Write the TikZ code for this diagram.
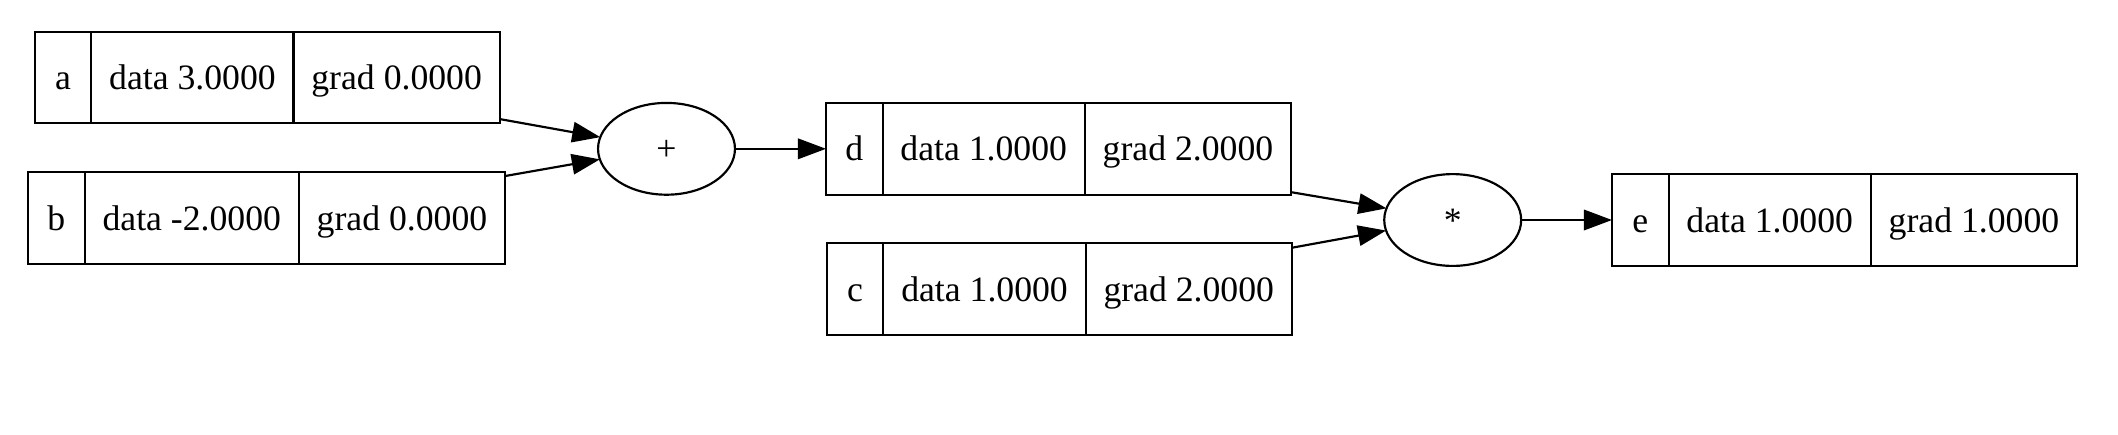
\documentclass[tikz,border=0pt]{standalone}
\usepackage{fontspec}
\setmainfont{Liberation Serif}
\usepackage{tikz}
\usetikzlibrary{positioning, shapes.geometric, arrows.meta}

\begin{document}
\begin{tikzpicture}[x=0.3922pt, y=-0.3922pt,
	field/.style = {draw, line width=0.85pt, outer sep=0pt, inner xsep=7pt, inner ysep=0pt, minimum height=36pt, text height=9.5pt, text depth=0pt, font=\fontsize{14pt}{17pt}\selectfont},
	namefield/.style = {field, minimum width=22.2pt},
	op/.style = {draw, ellipse, line width=0.85pt, outer sep=0pt, inner sep=0pt, minimum width=53.7pt, minimum height=36pt, text height=9.5pt, text depth=0pt, font=\fontsize{14pt}{17pt}\selectfont},
	link/.style = {-{Triangle[length=11pt, width=8pt]}, line width=0.85pt}]
			\path[fill=white] (0,0) rectangle (2118,434);
			
			\node[namefield, anchor=west] (a) at (34.7,77.5) {a};
			\node[field, right=0pt of a] (adata) {data 3.0000};
			\node[field, right=0pt of adata] (agrad) {grad 0.0000};
			
			\node[namefield, anchor=west] (b) at (28.1,218.1) {b};
			\node[field, right=0pt of b] (bdata) {data -2.0000};
			\node[field, right=0pt of bdata] (bgrad) {grad 0.0000};
			
			\node[op] (plus) at (666.5,148.8) {+};
			
			\node[namefield, anchor=west] (d) at (826,148.8) {d};
			\node[field, right=0pt of d] (ddata) {data 1.0000};
			\node[field, right=0pt of ddata] (dgrad) {grad 2.0000};
			
			\node[namefield, anchor=west] (c) at (826.8,289.3) {c};
			\node[field, right=0pt of c] (cdata) {data 1.0000};
			\node[field, right=0pt of cdata] (cgrad) {grad 2.0000};
			
			\node[op] (mul) at (1452.7,220) {*};
			
			\node[namefield, anchor=west] (e) at (1612,220) {e};
			\node[field, right=0pt of e] (edata) {data 1.0000};
			\node[field, right=0pt of edata] (egrad) {grad 1.0000};
			
			\draw[link] ([yshift=1.7pt]agrad.south east) -- (plus.170);
			\draw[link] ([yshift=-1.5pt]bgrad.north east) -- (plus.189);
			\draw[link] (plus.east) -- (d.west);
			\draw[link] ([yshift=1pt]dgrad.south east) -- (mul.170);
			\draw[link] ([yshift=-1.7pt]cgrad.north east) -- (mul.189);
			\draw[link] (mul.east) -- (e.west);
			
			\end{tikzpicture}
\end{document}
